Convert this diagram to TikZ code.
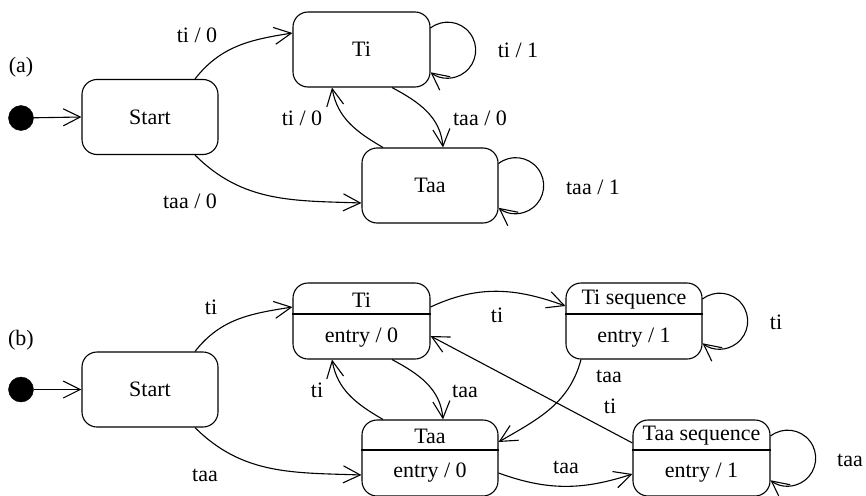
\documentclass[tikz,border=0pt]{standalone}
\usepackage{fontspec}
\setmainfont{Liberation Serif}
\usetikzlibrary{arrows.meta}
\tikzset{
  box/.style={draw, rounded corners=15pt, line width=1.1pt, inner sep=0pt, minimum width=136pt, minimum height=75pt},
  txt/.style={inner sep=0pt},
  arr/.style={line width=1.1pt, -{Straight Barb[length=17pt,width=17pt,line width=1.1pt]}},
  conn/.style={line width=1.1pt},
}
\begin{document}
\begin{tikzpicture}[x=1pt,y=1pt,font=\fontsize{22}{26}\selectfont]
\useasboundingbox (0,0) rectangle (866,-495);
% ---------- (a) ----------
\node[txt] (la) at (21,-67) {(a)};
\node[circle, fill=black, draw=black, minimum size=25pt, inner sep=0pt] (ia) at (21,-118) {};
\node[box] (sa) at (150,-117) {Start};
\node[box, minimum width=137pt] (tia) at (361.5,-49.5) {Ti};
\node[box] (taa) at (430,-185.5) {Taa};
\draw[arr] (ia) -- (sa.west);
\draw[arr] ([xshift=45pt]sa.north) to[out=52,in=189] ([yshift=16.5pt]tia.west);
\draw[arr] ([xshift=45pt]sa.south) to[out=-45,in=178] ([yshift=-17.5pt]taa.west);
\draw[arr] ([xshift=30.5pt]tia.south) to[out=-28,in=95] ([xshift=13pt]taa.north);
\draw[arr] ([xshift=-47pt]taa.north) to[out=150,in=-80] ([xshift=-29.5pt]tia.south);
\draw[arr] ([yshift=21.5pt]tia.east) arc[start angle=127.7, end angle=-127.7, radius=28pt];
\draw[arr] ([yshift=22pt]taa.east) arc[start angle=127.7, end angle=-127.7, radius=28pt];
\node[txt] at (197,-35) {ti / 0};
\node[txt] at (190,-201) {taa / 0};
\node[txt] at (518,-50) {ti / 1};
\node[txt] at (593,-187) {taa / 1};
\node[txt] at (480,-118) {taa / 0};
\node[txt] at (302,-118) {ti / 0};
% ---------- (b) ----------
\node[txt] (lb) at (21,-340) {(b)};
\node[circle, fill=black, draw=black, minimum size=25pt, inner sep=0pt] (ib) at (21,-389.5) {};
\node[box] (sb) at (150,-389.5) {Start};
\node[box, minimum width=137pt, minimum height=76pt] (tib) at (361.5,-321) {};
\node[box, minimum height=76pt] (tab) at (430,-458) {};
\node[box, minimum height=76pt] (tsq) at (634,-321) {};
\node[box, minimum width=137pt, minimum height=76pt] (asq) at (701.5,-458) {};
\draw[conn] (tib.west |- 0,-314) -- (tib.east |- 0,-314);
\draw[conn] (tsq.west |- 0,-314) -- (tsq.east |- 0,-314);
\draw[conn] (tab.west |- 0,-450) -- (tab.east |- 0,-450);
\draw[conn] (asq.west |- 0,-450) -- (asq.east |- 0,-450);
\node[txt] at (361.5,-300) {Ti};
\node[txt] at (361.5,-338) {entry / 0};
\node[txt] at (430,-436) {Taa};
\node[txt] at (430,-473) {entry / 0};
\node[txt] at (634,-300) {Ti sequence};
\node[txt] at (634,-338) {entry / 1};
\node[txt] at (701.5,-436) {Taa sequence};
\node[txt] at (701.5,-473) {entry / 1};
\draw[arr] (ib) -- (sb.west);
\draw[arr] ([xshift=45pt]sb.north) to[out=52,in=189] ([yshift=14pt]tib.west);
\draw[arr] ([xshift=45pt]sb.south) to[out=-45,in=178] ([yshift=-17pt]tab.west);
\draw[arr] ([xshift=30.5pt]tib.south) to[out=-28,in=95] ([xshift=13pt]tab.north);
\draw[arr] ([xshift=-47pt]tab.north) to[out=150,in=-80] ([xshift=-29.5pt]tib.south);
\draw[arr] ([yshift=14pt]tib.east) to[out=25,in=160] ([yshift=15pt]tsq.west);
\draw[arr] ([xshift=-53pt]tsq.south) to[out=-105,in=30] ([yshift=16pt]tab.east);
\draw[arr] ([yshift=15pt]asq.west) -- ([yshift=-15pt]tib.east);
\draw[arr] ([yshift=-15pt]tab.east) to[out=-20,in=-162] ([yshift=-16pt]asq.west);
\draw[arr] ([yshift=22pt]tsq.east) arc[start angle=127.7, end angle=-127.7, radius=28pt];
\draw[arr] ([yshift=22pt]asq.east) arc[start angle=127.7, end angle=-127.7, radius=28pt];
\node[txt] at (211,-307) {ti};
\node[txt] at (205,-475) {taa};
\node[txt] at (497,-315) {ti};
\node[txt] at (776,-322) {ti};
\node[txt] at (465,-391) {taa};
\node[txt] at (317,-390) {ti};
\node[txt] at (609,-376) {taa};
\node[txt] at (610,-406) {ti};
\node[txt] at (566,-467) {taa};
\node[txt] at (850,-460) {taa};
\end{tikzpicture}
\end{document}
